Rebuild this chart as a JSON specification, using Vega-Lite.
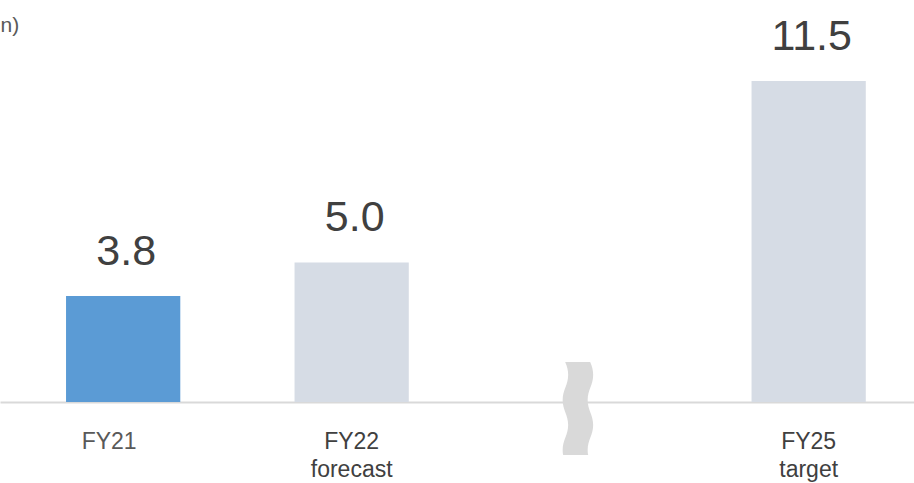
{
  "$schema": "https://vega.github.io/schema/vega-lite/v6.json",
  "width": 914,
  "height": 402,
  "autosize": {"type": "none"},
  "padding": {"left": 0, "top": 0, "right": 0, "bottom": 81},
  "background": "white",
  "config": {"view": {"stroke": null}, "font": "Liberation Sans"},
  "datasets": {
    "bars": [
      {"cat": "FY21", "value": 3.8, "kind": "actual"},
      {"cat": "FY22 forecast", "value": 5.0, "kind": "forecast"},
      {"cat": "FY25 target", "value": 11.5, "kind": "target"}
    ],
    "gap": [
      {"cat": "break", "value": 0}
    ]
  },
  "encoding": {
    "x": {
      "field": "cat",
      "type": "nominal",
      "sort": null,
      "scale": {"domain": ["FY21", "FY22 forecast", "break", "FY25 target"], "paddingInner": 0.5, "paddingOuter": 0.25, "align": 0.578},
      "axis": {
        "title": null,
        "labelAngle": 0,
        "labelExpr": "datum.value == 'break' ? '' : split(datum.value, ' ')",
        "labelFont": "Liberation Sans",
        "labelFontSize": 23,
        "labelLineHeight": 28,
        "labelColor": {"condition": {"test": "datum.value == 'FY21'", "value": "#595959"}, "value": "#404040"},
        "labelOffset": {"condition": {"test": "datum.value == 'FY21'", "value": -14}, "value": 0},
        "labelPadding": 28,
        "ticks": false,
        "tickSize": 0,
        "domain": true,
        "domainColor": "#D9D9D9",
        "domainWidth": 2,
        "grid": false
      }
    },
    "y": {
      "field": "value",
      "type": "quantitative",
      "scale": {"domain": [0, 14.402], "nice": false, "zero": true},
      "axis": {
        "domain": false,
        "ticks": false,
        "labels": false,
        "grid": false,
        "title": "n)",
        "titleAngle": 0,
        "titleAlign": "left",
        "titleBaseline": "alphabetic",
        "titleX": 0,
        "titleY": 31,
        "titleFont": "Liberation Sans",
        "titleFontSize": 21,
        "titleFontWeight": "normal",
        "titleColor": "#595959"
      }
    }
  },
  "layer": [
    {
      "data": {"name": "bars"},
      "mark": {"type": "bar"},
      "encoding": {
        "color": {
          "field": "kind",
          "type": "nominal",
          "scale": {"domain": ["actual", "forecast", "target"], "range": ["#5B9BD5", "#D6DCE5", "#D6DCE5"]},
          "legend": null
        }
      }
    },
    {
      "data": {"name": "bars"},
      "mark": {"type": "text", "baseline": "alphabetic", "align": "center", "dy": -31, "dx": 3, "fontSize": 43, "font": "Liberation Sans", "color": "#404040"},
      "encoding": {
        "text": {"field": "value", "type": "quantitative", "format": ".1f"}
      }
    },
    {
      "data": {"name": "gap"},
      "mark": {
        "type": "point",
        "filled": true,
        "opacity": 1,
        "color": "#D9D9D9",
        "strokeWidth": 0,
        "size": 10000,
        "shape": "M -0.3 -0.8 C -0.26 -0.72 -0.24 -0.62 -0.24 -0.54 C -0.24 -0.34 -0.35 -0.24 -0.35 -0.04 C -0.35 0.16 -0.24 0.26 -0.24 0.46 C -0.24 0.66 -0.35 0.76 -0.35 0.96 C -0.35 1.0 -0.346 1.04 -0.34 1.06 L 0.16 1.06 C 0.154 1.04 0.15 1.0 0.15 0.96 C 0.15 0.76 0.26 0.66 0.26 0.46 C 0.26 0.26 0.15 0.16 0.15 -0.04 C 0.15 -0.24 0.26 -0.34 0.26 -0.54 C 0.26 -0.62 0.24 -0.72 0.2 -0.8 Z"
      }
    }
  ]
}
